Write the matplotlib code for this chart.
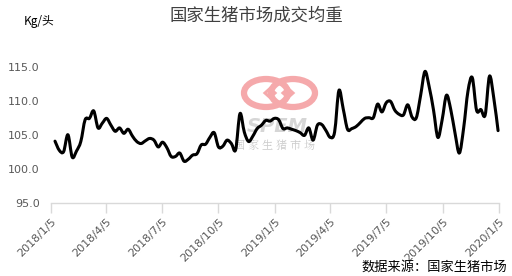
import datetime as dt
import matplotlib
matplotlib.use("Agg")
import matplotlib.pyplot as plt
import matplotlib.dates as mdates
from matplotlib.path import Path
from matplotlib.patches import PathPatch, Ellipse, Polygon
import numpy as np

plt.rcParams['font.family'] = ['Noto Sans CJK SC', 'DejaVu Sans']

title = "国家生猪市场成交均重"
unit_label = "Kg/头"
source_label = "数据来源：国家生猪市场"

start_date = dt.date(2018, 1, 12)
weights = [
    104.05, 102.7, 102.5, 105.0, 101.7, 102.6, 104.0, 107.2, 107.4, 108.5,
    106.0, 106.7, 107.4, 106.4, 105.5, 106.0, 105.2, 105.8, 104.8, 104.0,
    103.7, 104.1, 104.45, 104.2, 103.2, 103.9, 103.1, 101.8, 101.8, 102.3,
    101.1, 101.4, 102.0, 102.2, 103.5, 103.6, 104.6, 105.3, 103.2, 103.3,
    104.2, 103.7, 102.8, 108.1, 105.4, 104.0, 104.8, 105.9, 106.4, 107.1,
    107.0, 107.4, 107.2, 105.9, 106.0, 105.8, 105.6, 105.3, 104.9, 106.0,
    104.2, 106.4, 106.5, 105.6, 104.6, 105.4, 111.5, 108.8, 105.8, 105.9,
    106.2, 106.8, 107.4, 107.5, 107.5, 109.5, 108.35, 109.7, 109.9, 108.6,
    108.0, 107.9, 109.4, 107.6, 107.5, 110.8, 114.3, 112.0, 108.6, 104.6,
    107.2, 110.8, 108.7, 105.2, 102.3, 106.0, 111.4, 113.4, 108.6, 108.7,
    107.9, 113.6, 110.4, 105.6,
]
dates = [start_date + dt.timedelta(weeks=i) for i in range(len(weights))]

tick_dates = [dt.date(2018, 1, 5), dt.date(2018, 4, 5), dt.date(2018, 7, 5),
              dt.date(2018, 10, 5), dt.date(2019, 1, 5), dt.date(2019, 4, 5),
              dt.date(2019, 7, 5), dt.date(2019, 10, 5), dt.date(2020, 1, 5)]
tick_labels = ["2018/1/5", "2018/4/5", "2018/7/5", "2018/10/5", "2019/1/5",
               "2019/4/5", "2019/7/5", "2019/10/5", "2020/1/5"]
y_ticks = [95.0, 100.0, 105.0, 110.0, 115.0]

W, H = 512, 276
fig = plt.figure(figsize=(W / 100, H / 100), dpi=100)
fig.patch.set_facecolor("white")

# watermark (behind the axes)
wm = fig.add_axes([0, 0, 1, 1], zorder=0)
wm.set_xlim(0, W)
wm.set_ylim(H, 0)
wm.axis("off")
pink = "#f5a9ab"
wm.add_patch(Ellipse((266, 93), 44, 28, fill=False, ec=pink, lw=4.5))
wm.add_patch(Ellipse((293, 93), 44, 28, fill=False, ec=pink, lw=4.5))
wm.add_patch(Polygon([(265, 93), (270, 88.5), (275, 93), (270, 97.5)], closed=True,
                     fill=False, ec=pink, lw=2.2))
wm.add_patch(Polygon([(283, 93), (288, 88.5), (293, 93), (288, 97.5)], closed=True,
                     fill=False, ec=pink, lw=2.2))
wm.text(277, 126, "SPEM", ha="center", va="center", fontsize=14,
        fontweight="bold", fontstyle="italic", color="#d6d6d6",
        family=["DejaVu Sans"])
wm.text(275, 146, "国 家 生 猪 市 场", ha="center", va="center", fontsize=8,
        color="#cbcbcb", family=["Noto Serif CJK SC", "Noto Sans CJK SC"])

left, right = 50.7 / W, 499.3 / W
bottom, top = 1 - 202.7 / H, 1 - 66.7 / H
ax = fig.add_axes([left, bottom, right - left, top - bottom], zorder=1)
ax.patch.set_alpha(0)

xnum = mdates.date2num(dates)
pts = np.column_stack([xnum, weights])
verts = [tuple(pts[0])]
codes = [Path.MOVETO]
n = len(pts)
for i in range(n - 1):
    p0 = pts[i - 1] if i > 0 else pts[i]
    p1 = pts[i]
    p2 = pts[i + 1]
    p3 = pts[i + 2] if i + 2 < n else pts[i + 1]
    c1 = p1 + (p2 - p0) / 6.0
    c2 = p2 - (p3 - p1) / 6.0
    verts += [tuple(c1), tuple(c2), tuple(p2)]
    codes += [Path.CURVE4] * 3
ax.add_patch(PathPatch(Path(verts, codes), fill=False, ec="black", lw=2.2,
                       capstyle="round", joinstyle="round", clip_on=False))

ax.set_xlim(mdates.date2num(tick_dates[0]), mdates.date2num(tick_dates[-1]))
ax.set_ylim(95, 115)
ax.set_xticks(mdates.date2num(tick_dates))
ax.set_xticklabels(tick_labels, rotation=45, ha="right", va="top",
                   rotation_mode="anchor", fontsize=8, color="#595959",
                   family=["DejaVu Sans"])
ax.set_yticks(y_ticks)
ax.set_yticklabels([f"{v:.1f}" for v in y_ticks], fontsize=8, color="#595959",
                   family=["DejaVu Sans"])
for s in ["top", "right", "left"]:
    ax.spines[s].set_visible(False)
ax.spines["bottom"].set_color("#d9d9d9")
ax.spines["bottom"].set_linewidth(1)
ax.tick_params(axis="x", length=7, width=1, color="#d9d9d9", direction="out", pad=3)
ax.tick_params(axis="y", length=0, pad=8)

fig.text(256 / W, 1 - 16 / H, title, ha="center", va="center", fontsize=12.5,
         color="#404040")
fig.text(24 / W, 1 - 22 / H, unit_label, ha="left", va="center", fontsize=8.5,
         color="black")
fig.text(507 / W, 1 - 267 / H, source_label, ha="right", va="center",
         fontsize=9.5, color="black")

fig.savefig("out.png", dpi=100, facecolor="white")
